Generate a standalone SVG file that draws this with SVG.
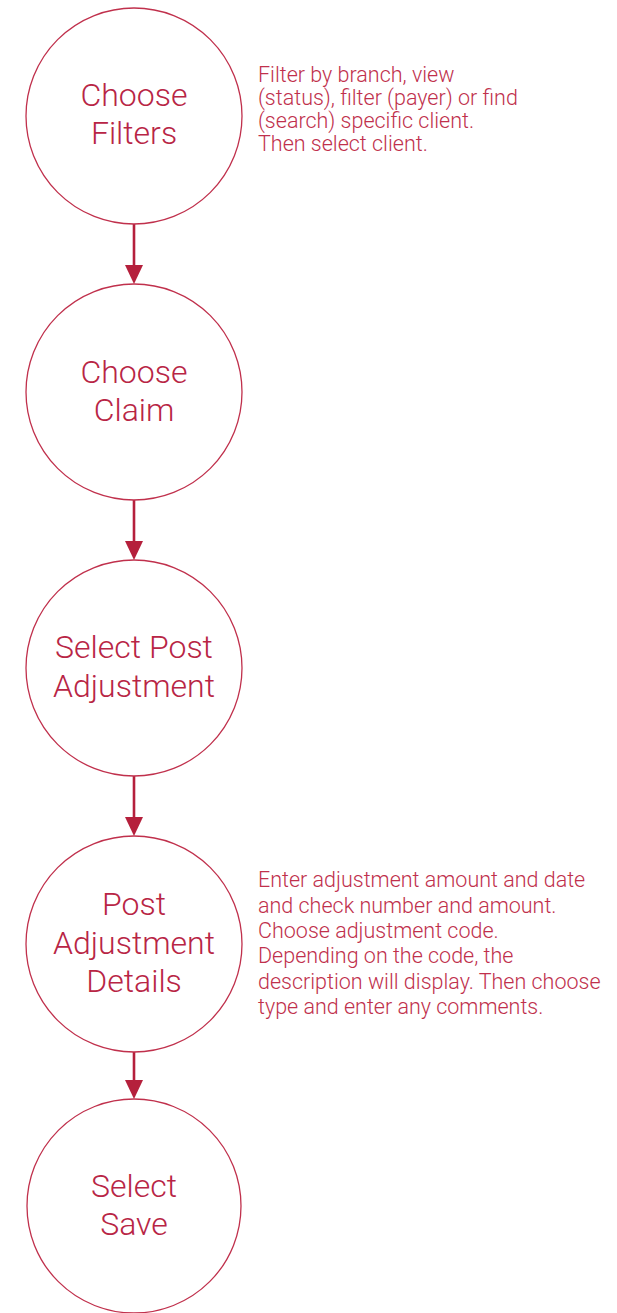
<svg xmlns="http://www.w3.org/2000/svg" width="617" height="1313" viewBox="0 0 617 1313">
  <style>
    .node circle { fill: #ffffff; stroke: #c0304c; stroke-width: 1.3; }
    .label { font-family: Roboto, "Liberation Sans", Arial, sans-serif; font-weight: 300; font-size: 32px; fill: #b82545; text-anchor: middle; }
    .note { font-family: Roboto, "Liberation Sans", Arial, sans-serif; font-weight: 300; font-size: 21.5px; fill: #c0304c; }
    .edge { stroke: #b5203c; stroke-width: 2.6; fill: none; }
    .head { fill: #b5203c; }
  </style>
  <rect width="617" height="1313" fill="#ffffff"/>

  <!-- connectors -->
  <g id="connectors">
    <line class="edge" x1="134" y1="224" x2="134" y2="268"/>
    <polygon class="head" points="125,265 143,265 134,284"/>
    <line class="edge" x1="134" y1="500" x2="134" y2="544"/>
    <polygon class="head" points="125,541 143,541 134,560"/>
    <line class="edge" x1="134" y1="776" x2="134" y2="820"/>
    <polygon class="head" points="125,817 143,817 134,836"/>
    <line class="edge" x1="134" y1="1052" x2="134" y2="1083"/>
    <polygon class="head" points="125,1080 143,1080 134,1099"/>
  </g>

  <g id="choose-filters" class="node">
    <circle cx="134" cy="116" r="108"/>
    <text class="label" x="134" y="106">Choose</text>
    <text class="label" x="134" y="144">Filters</text>
  </g>

  <g id="choose-claim" class="node">
    <circle cx="134" cy="392" r="108"/>
    <text class="label" x="134" y="383">Choose</text>
    <text class="label" x="134" y="421">Claim</text>
  </g>

  <g id="select-post-adjustment" class="node">
    <circle cx="134" cy="668" r="108"/>
    <text class="label" x="134" y="658">Select Post</text>
    <text class="label" x="134" y="697">Adjustment</text>
  </g>

  <g id="post-adjustment-details" class="node">
    <circle cx="134" cy="944" r="108"/>
    <text class="label" x="134" y="915">Post</text>
    <text class="label" x="134" y="954">Adjustment</text>
    <text class="label" x="134" y="992">Details</text>
  </g>

  <g id="select-save" class="node">
    <circle cx="134" cy="1206" r="107"/>
    <text class="label" x="134" y="1197">Select</text>
    <text class="label" x="134" y="1235">Save</text>
  </g>

  <g id="note-filters">
    <text class="note" x="258" y="82">Filter by branch, view</text>
    <text class="note" x="258" y="105">(status), filter (payer) or find</text>
    <text class="note" x="258" y="128">(search) specific client.</text>
    <text class="note" x="258" y="151">Then select client.</text>
  </g>

  <g id="note-details">
    <text class="note" x="258" y="887">Enter adjustment amount and date</text>
    <text class="note" x="258" y="913">and check number and amount.</text>
    <text class="note" x="258" y="938">Choose adjustment code.</text>
    <text class="note" x="258" y="963">Depending on the code, the</text>
    <text class="note" x="258" y="989">description will display. Then choose</text>
    <text class="note" x="258" y="1014">type and enter any comments.</text>
  </g>
</svg>
